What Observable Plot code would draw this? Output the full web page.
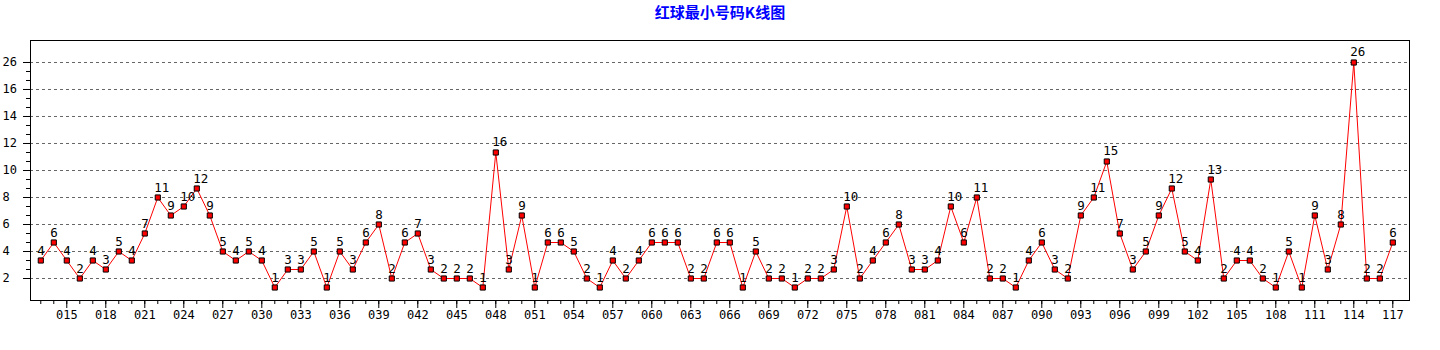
<!DOCTYPE html>
<html>
<head>
<meta charset="utf-8">
<script src="https://cdn.jsdelivr.net/npm/d3@7"></script>
<script src="https://cdn.jsdelivr.net/npm/@observablehq/plot@0.6"></script>
<style>
  html, body { margin: 0; padding: 0; background: #fff; }
  #chart svg { display: block; }
</style>
</head>
<body>
<div id="chart"></div>
<script>
// Periods (issue numbers) 013 … 117
const periods = [
  13,14,15,16,17,18,19,20,21,22,23,24,25,26,27,28,29,30,
  31,32,33,34,35,36,37,38,39,40,41,42,43,44,45,46,47,48,
  49,50,51,52,53,54,55,56,57,58,59,60,61,62,63,64,65,66,
  67,68,69,70,71,72,73,74,75,76,77,78,79,80,81,82,83,84,85,
  86,87,88,89,90,91,92,93,94,95,96,97,98,99,100,101,102,103,
  104,105,106,107,108,109,110,111,112,113,114,115,116,117
];
// Smallest red-ball number for each period
const values = [
  4,6,4,2,4,3,5,4,7,11,9,10,12,9,5,4,5,4,
  1,3,3,5,1,5,3,6,8,2,6,7,3,2,2,2,1,16,
  3,9,1,6,6,5,2,1,4,2,4,6,6,6,2,2,6,6,
  1,5,2,2,1,2,2,3,10,2,4,6,8,3,3,4,10,6,11,
  2,2,1,4,6,3,2,9,11,15,7,3,5,9,12,5,4,13,
  2,4,4,2,1,5,1,9,3,8,26,2,2,6
];
// Y axis: tick positions (in value units) and their printed labels
const yTickValues = [2, 5, 8, 11, 14, 17, 20, 23, 26];
const yTickLabels = ["2", "4", "6", "8", "10", "12", "14", "16", "26"];
// X axis labelled ticks
const xTickValues = [15,18,21,24,27,30,33,36,39,42,45,48,51,54,57,60,63,66,69,72,75,78,81,84,87,90,93,96,99,102,105,108,111,114,117];
const title = "红球最小号码K线图";

const data = periods.map((p, i) => ({period: p, value: values[i]}));
const yLabelData = yTickValues.map((v, i) => ({v, label: yTickLabels[i]}));
const yMinor = d3.range(2, 27);
const fmt3 = d => String(d).padStart(3, "0");
const mono = "'DejaVu Sans Mono', monospace";

const chart = Plot.plot({
  width: 1440,
  height: 350,
  marginLeft: 30,
  marginRight: 31,
  marginTop: 40,
  marginBottom: 50,
  style: {fontFamily: mono, fontSize: "12px", color: "#000", background: "#fff"},
  x: {type: "linear", domain: [12.208, 118.285], label: null},
  y: {type: "linear", domain: [-0.444, 28.444], label: null},
  marks: [
    Plot.gridY(yTickValues, {stroke: "#666", strokeOpacity: 1, strokeDasharray: "3,3"}),
    Plot.axisY(yMinor, {anchor: "left", tickSize: 4, text: null, label: null, stroke: "#000"}),
    Plot.axisY(yTickValues, {anchor: "left", tickSize: 7, text: null, label: null, stroke: "#000"}),
    Plot.text(yLabelData, {
      y: "v", text: "label", frameAnchor: "left", textAnchor: "start", lineAnchor: "middle",
      dx: -28, fontSize: 12, fontFamily: mono, fill: "#000"
    }),
    Plot.axisX(periods, {anchor: "bottom", tickSize: 4, text: null, label: null, stroke: "#000"}),
    Plot.axisX(xTickValues, {
      anchor: "bottom", tickSize: 8, tickPadding: 2, label: null,
      tickFormat: fmt3, fontSize: 12, fontFamily: mono, fill: "#000", stroke: "#000"
    }),
    Plot.frame({stroke: "#000", strokeWidth: 1}),
    Plot.line(data, {x: "period", y: "value", stroke: "#ff0000", strokeWidth: 1}),
    Plot.dot(data, {x: "period", y: "value", symbol: "square", r: 2.9, fill: "#ff0000", stroke: "#000", strokeWidth: 1}),
    Plot.text(data, {
      x: "period", y: "value", text: d => String(d.value),
      textAnchor: "start", lineAnchor: "bottom", dx: -3.5, dy: -6,
      fontSize: 12.5, fontFamily: mono, fill: "#000"
    }),
    Plot.text([title], {
      frameAnchor: "top", dy: -27, lineAnchor: "middle",
      fill: "#0000ff", fontWeight: "bold", fontSize: 15,
      fontFamily: "'Noto Sans CJK SC', sans-serif"
    })
  ]
});
document.getElementById("chart").appendChild(chart);
</script>
</body>
</html>
